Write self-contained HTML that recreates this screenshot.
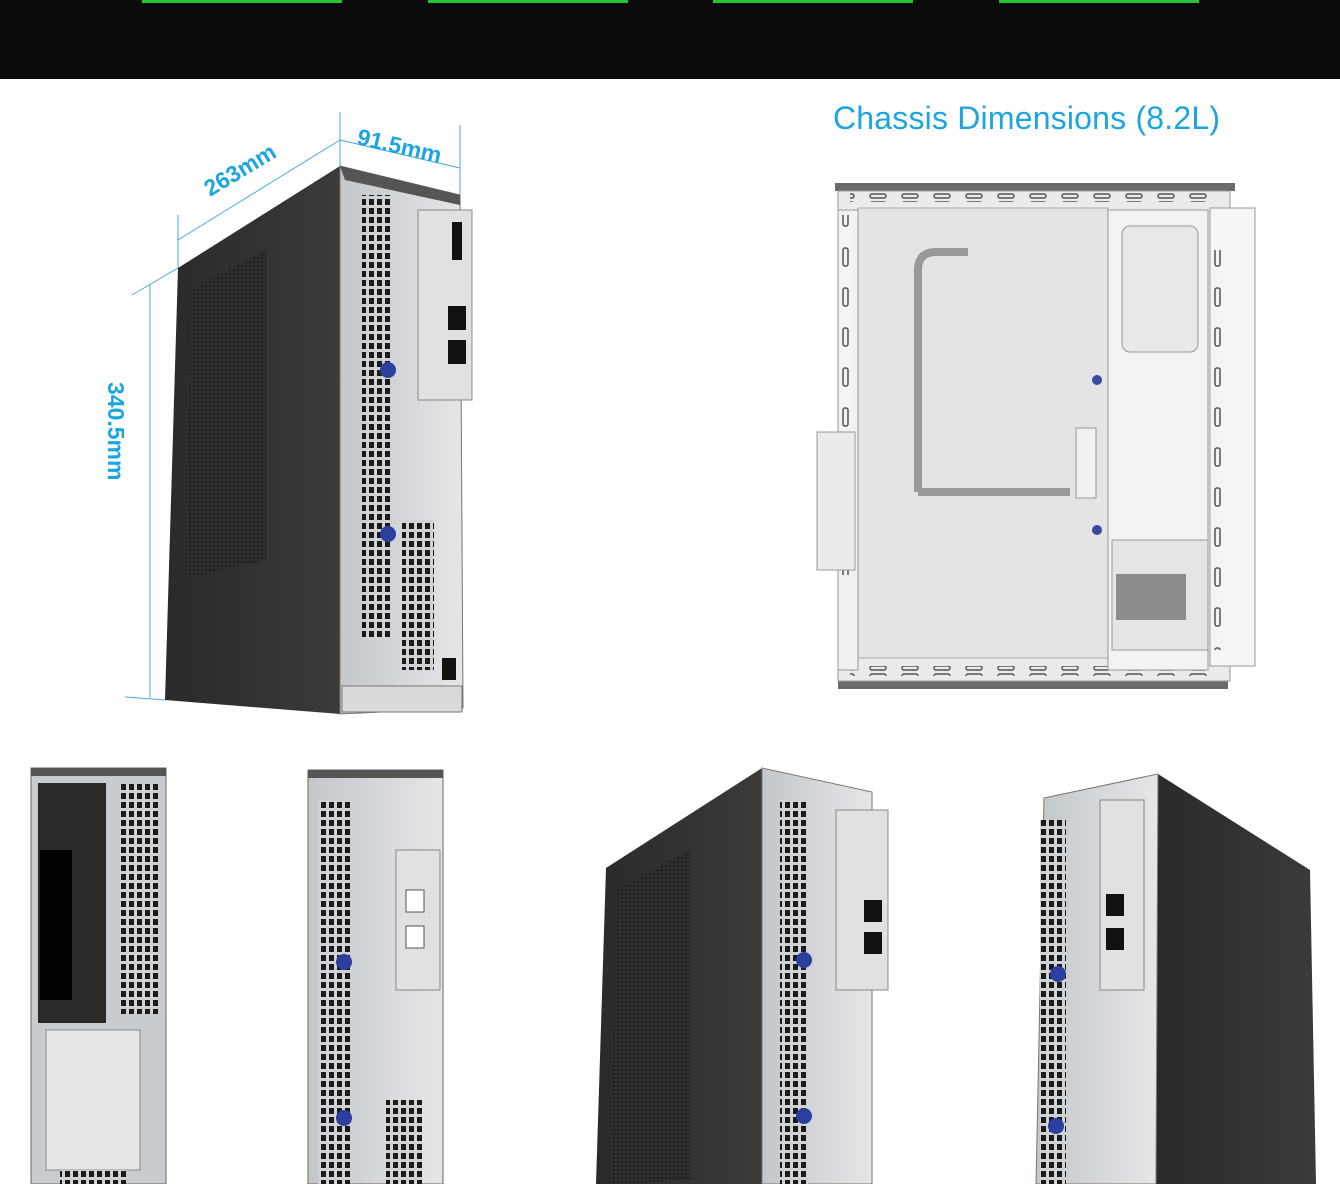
<!DOCTYPE html>
<html><head><meta charset="utf-8"><style>
html,body{margin:0;padding:0;background:#fff;width:1340px;height:1184px;overflow:hidden}
svg{display:block}
</style></head><body>
<svg width="1340" height="1184" viewBox="0 0 1340 1184" xmlns="http://www.w3.org/2000/svg">
<defs>
<pattern id="holes" width="8" height="9" patternUnits="userSpaceOnUse"><rect width="8" height="9" fill="#cfd2d4"/><rect x="1" y="1" width="5" height="6" fill="#1a1a1a"/></pattern>
<pattern id="mesh" width="4" height="4" patternUnits="userSpaceOnUse"><rect width="4" height="4" fill="#2e2e2e"/><circle cx="2" cy="2" r="0.9" fill="#111"/></pattern>
<pattern id="slots" width="32" height="8" patternUnits="userSpaceOnUse"><rect width="32" height="8" fill="#e9ebec"/><rect x="6" y="2" width="16" height="4" rx="2" fill="none" stroke="#555" stroke-width="1.5"/></pattern>
<pattern id="vslots" width="12" height="40" patternUnits="userSpaceOnUse"><rect width="12" height="40" fill="#f3f4f5"/><rect x="3" y="8" width="5" height="18" rx="2" fill="none" stroke="#555" stroke-width="1.5"/></pattern>
<linearGradient id="dark" x1="0" x2="1"><stop offset="0" stop-color="#2a2a2a"/><stop offset="1" stop-color="#3a3a3a"/></linearGradient>
<linearGradient id="silver" x1="0" x2="1"><stop offset="0" stop-color="#c4c7ca"/><stop offset="1" stop-color="#e4e6e8"/></linearGradient>
</defs>
<rect x="0" y="0" width="1340" height="79" fill="#0b0b0b"/>
<rect x="142" y="0" width="200" height="3" fill="#27c23a"/>
<rect x="428" y="0" width="200" height="3" fill="#27c23a"/>
<rect x="713" y="0" width="200" height="3" fill="#27c23a"/>
<rect x="999" y="0" width="200" height="3" fill="#27c23a"/>

<text x="833" y="129" font-family="Liberation Sans, sans-serif" font-size="32" fill="#1ca5e0" textLength="387">Chassis Dimensions (8.2L)</text>

<g stroke="#4aa8d8" stroke-width="1" fill="none">
<line x1="178" y1="215" x2="178" y2="268"/>
<line x1="178" y1="240" x2="340" y2="140"/>
<line x1="340" y1="112" x2="340" y2="166"/>
<line x1="340" y1="140" x2="460" y2="168"/>
<line x1="460" y1="125" x2="460" y2="195"/>
<line x1="132" y1="295" x2="178" y2="268"/>
<line x1="150" y1="285" x2="150" y2="698"/>
<line x1="125" y1="697" x2="165" y2="700"/>
</g>
<g font-family="Liberation Sans, sans-serif" font-weight="bold" font-size="23" fill="#1ca5e0">
<text x="0" y="0" transform="translate(210,197) rotate(-31)">263mm</text>
<text x="0" y="0" transform="translate(356,144) rotate(13)">91.5mm</text>
<text x="0" y="0" transform="translate(108,382) rotate(90)">340.5mm</text>
</g>

<polygon points="178,268 340,166 340,714 165,700" fill="url(#dark)"/>
<polygon points="192,290 266,250 266,560 186,578" fill="url(#mesh)"/>
<polygon points="340,166 460,195 463,708 340,714" fill="url(#silver)" stroke="#777"/>
<polygon points="340,166 460,195 460,205 345,180" fill="#555"/>
<rect x="362" y="195" width="30" height="445" fill="url(#holes)"/>
<rect x="402" y="520" width="32" height="150" fill="url(#holes)"/>
<rect x="418" y="210" width="54" height="190" fill="#dfe1e3" stroke="#888"/>
<rect x="452" y="222" width="10" height="38" fill="#111"/>
<rect x="448" y="306" width="18" height="24" fill="#111"/>
<rect x="448" y="340" width="18" height="24" fill="#111"/>
<circle cx="388" cy="370" r="8" fill="#2c3f9e"/>
<circle cx="388" cy="534" r="8" fill="#2c3f9e"/>
<rect x="442" y="658" width="14" height="22" fill="#111"/>
<rect x="342" y="686" width="120" height="26" fill="#d8dadc" stroke="#777"/>

<rect x="835" y="183" width="400" height="8" fill="#6b6b6b"/>
<rect x="838" y="680" width="390" height="9" fill="#6b6b6b"/>
<rect x="838" y="191" width="392" height="490" fill="#e9ebec" stroke="#999"/>
<rect x="850" y="192" width="360" height="10" fill="url(#slots)"/>
<rect x="850" y="666" width="360" height="10" fill="url(#slots)"/>
<rect x="858" y="208" width="250" height="450" fill="#e2e4e6" stroke="#aaa"/>
<path d="M918 492 V270 Q918 252 936 252 H968" stroke="#999" stroke-width="8" fill="none"/>
<path d="M918 492 H1070" stroke="#999" stroke-width="8" fill="none"/>
<rect x="1108" y="210" width="100" height="460" fill="#f1f2f3" stroke="#999"/>
<rect x="1122" y="226" width="76" height="126" rx="8" fill="#e6e8ea" stroke="#999"/>
<rect x="1112" y="540" width="96" height="110" fill="#e3e5e7" stroke="#999"/>
<rect x="1116" y="574" width="70" height="46" fill="#8a8c8e"/>
<rect x="1210" y="208" width="45" height="458" fill="#f5f6f7" stroke="#999"/>
<rect x="1212" y="250" width="12" height="400" fill="url(#vslots)"/>
<rect x="838" y="210" width="20" height="460" fill="#f0f1f2" stroke="#999"/>
<rect x="840" y="215" width="12" height="360" fill="url(#vslots)"/>
<rect x="817" y="432" width="38" height="138" fill="#e9ebec" stroke="#999"/>
<rect x="1076" y="428" width="20" height="70" fill="#f0f1f2" stroke="#999"/>
<circle cx="1097" cy="380" r="5" fill="#3a4aa0"/>
<circle cx="1097" cy="530" r="5" fill="#3a4aa0"/>

<rect x="31" y="768" width="135" height="416" fill="#c9ccce" stroke="#666"/>
<rect x="31" y="768" width="135" height="8" fill="#555"/>
<rect x="38" y="783" width="68" height="240" fill="#2a2a2a"/>
<rect x="40" y="850" width="32" height="150" fill="#000"/>
<rect x="120" y="784" width="38" height="230" fill="url(#holes)"/>
<rect x="46" y="1030" width="94" height="140" fill="#e4e6e8" stroke="#888"/>
<rect x="60" y="1170" width="66" height="14" fill="url(#holes)"/>

<rect x="308" y="770" width="135" height="414" fill="url(#silver)" stroke="#666"/>
<rect x="308" y="770" width="135" height="8" fill="#555"/>
<rect x="318" y="800" width="32" height="384" fill="url(#holes)"/>
<rect x="396" y="850" width="44" height="140" fill="#dfe1e3" stroke="#888"/>
<rect x="406" y="890" width="18" height="22" fill="#fff" stroke="#555"/>
<rect x="406" y="926" width="18" height="22" fill="#fff" stroke="#555"/>
<rect x="386" y="1100" width="36" height="84" fill="url(#holes)"/>
<circle cx="344" cy="962" r="8" fill="#2c3f9e"/>
<circle cx="344" cy="1118" r="8" fill="#2c3f9e"/>

<polygon points="606,868 762,768 762,1184 596,1184" fill="url(#dark)"/>
<polygon points="618,890 690,850 690,1180 610,1184" fill="url(#mesh)"/>
<polygon points="762,768 872,792 872,1184 762,1184" fill="url(#silver)" stroke="#777"/>
<rect x="780" y="800" width="28" height="384" fill="url(#holes)"/>
<rect x="836" y="810" width="52" height="180" fill="#dfe1e3" stroke="#888"/>
<rect x="864" y="900" width="18" height="22" fill="#111"/>
<rect x="864" y="932" width="18" height="22" fill="#111"/>
<circle cx="804" cy="960" r="8" fill="#2c3f9e"/>
<circle cx="804" cy="1116" r="8" fill="#2c3f9e"/>

<polygon points="1158,774 1310,870 1316,1184 1156,1184" fill="url(#dark)"/>
<polygon points="1044,798 1158,774 1156,1184 1036,1184" fill="url(#silver)" stroke="#777"/>
<rect x="1040" y="820" width="26" height="364" fill="url(#holes)"/>
<rect x="1100" y="800" width="44" height="190" fill="#dfe1e3" stroke="#888"/>
<rect x="1106" y="894" width="18" height="22" fill="#111"/>
<rect x="1106" y="928" width="18" height="22" fill="#111"/>
<circle cx="1058" cy="974" r="8" fill="#2c3f9e"/>
<circle cx="1056" cy="1126" r="8" fill="#2c3f9e"/>
</svg>
</body></html>
